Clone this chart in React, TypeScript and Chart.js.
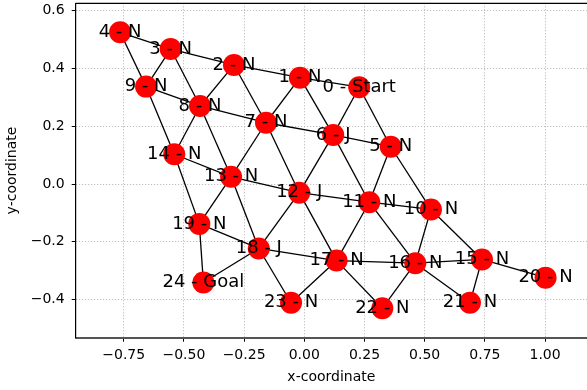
import React, { useEffect, useRef } from "react";
import { Chart, registerables } from "chart.js";

Chart.register(...registerables);

const nodeLabels = [
  "0 - Start", "1 - N", "2 - N", "3 - N", "4 - N", "5 - N", "6 - J", "7 - N", "8 - N", "9 - N",
  "10 - N", "11 - N", "12 - J", "13 - N", "14 - N", "15 - N", "16 - N", "17 - N", "18 - J", "19 - N",
  "20 - N", "21 - N", "22 - N", "23 - N", "24 - Goal",
];
const nodeX = [
  0.228, -0.018, -0.292, -0.555, -0.765, 0.359, 0.12, -0.159, -0.433, -0.657,
  0.526, 0.27, -0.021, -0.304, -0.54, 0.738, 0.461, 0.134, -0.189, -0.436,
  1.002, 0.688, 0.324, -0.055, -0.419,
];
const nodeY = [
  0.335, 0.368, 0.412, 0.467, 0.525, 0.129, 0.17, 0.212, 0.27, 0.337,
  -0.088, -0.063, -0.03, 0.025, 0.103, -0.261, -0.274, -0.265, -0.223, -0.138,
  -0.324, -0.411, -0.43, -0.411, -0.341,
];
const edgeFrom = [
  4, 3, 2, 1, 4, 3, 3, 2, 2, 1, 1, 0, 0, 9, 8, 7, 6, 9, 8, 8, 7, 7, 6, 6, 5, 5,
  14, 13, 12, 11, 14, 13, 13, 12, 12, 11, 11, 10, 10, 19, 18, 17, 16, 15, 19, 24, 18, 23, 17, 22, 16, 21,
];
const edgeTo = [
  3, 2, 1, 0, 9, 9, 8, 8, 7, 7, 6, 6, 5, 8, 7, 6, 5, 14, 14, 13, 13, 12, 12, 11, 11, 10,
  13, 12, 11, 10, 19, 19, 18, 18, 17, 17, 16, 16, 15, 18, 17, 16, 15, 20, 24, 18, 23, 17, 22, 16, 21, 15,
];
const xTicks = [-0.75, -0.5, -0.25, 0, 0.25, 0.5, 0.75, 1.0];
const yTicks = [-0.4, -0.2, 0, 0.2, 0.4, 0.6];
const xRange = [-0.9493, 1.1741];
const yRange = [-0.5318, 0.6253];

const FONT = "'DejaVu Sans', sans-serif";
const minus = (s: string) => s.replace("-", "\u2212");

const zeroPad = (s: any) => {
  s.paddingTop = 0;
  s.paddingBottom = 0;
  s.paddingLeft = 0;
  s.paddingRight = 0;
};

export default function App() {
  const ref = useRef<HTMLCanvasElement | null>(null);
  useEffect(() => {
    if (!ref.current) return;
    const nodes = nodeX.map((x, i) => ({ x, y: nodeY[i] }));
    const edgeSets = edgeFrom.map((a, i) => ({
      type: "line" as const,
      data: [nodes[a], nodes[edgeTo[i]]],
      borderColor: "#000",
      borderWidth: 1.3,
      pointRadius: 0,
      showLine: true,
      fill: false,
      order: 1,
    }));
    const labelPlugin = {
      id: "nodeLabels",
      afterDatasetsDraw(chart: any) {
        const ctx = chart.ctx;
        const xs = chart.scales.x;
        const ys = chart.scales.y;
        ctx.save();
        ctx.font = `18px ${FONT}`;
        ctx.fillStyle = "#000";
        ctx.textAlign = "center";
        ctx.textBaseline = "middle";
        nodeLabels.forEach((t, i) => {
          ctx.fillText(t, xs.getPixelForValue(nodeX[i]), ys.getPixelForValue(nodeY[i]));
        });
        ctx.restore();
      },
    };
    const framePlugin = {
      id: "frame",
      afterDraw(chart: any) {
        const { ctx, chartArea } = chart;
        ctx.save();
        ctx.strokeStyle = "#000";
        ctx.lineWidth = 1.2;
        ctx.beginPath();
        ctx.moveTo(chartArea.left, chartArea.top);
        ctx.lineTo(chartArea.right, chartArea.top);
        ctx.stroke();
        ctx.restore();
      },
    };
    const chart = new Chart(ref.current, {
      type: "scatter",
      data: {
        datasets: [
          {
            data: nodes,
            backgroundColor: "#ff0000",
            borderWidth: 0,
            pointRadius: 11,
            pointHoverRadius: 11,
            order: 0,
          } as any,
          ...edgeSets,
        ],
      },
      options: {
        animation: false,
        responsive: false,
        devicePixelRatio: 1,
        layout: { autoPadding: false, padding: { top: 3.3, right: 0, left: 0, bottom: 0 } },
        plugins: { legend: { display: false }, tooltip: { enabled: false } },
        events: [],
        scales: {
          x: {
            type: "linear",
            min: xRange[0],
            max: xRange[1],
            afterBuildTicks: (s: any) => {
              s.ticks = xTicks.map((v) => ({ value: v }));
            },
            afterFit: (s: any) => {
              s.height = 52.3;
              zeroPad(s);
            },
            ticks: {
              color: "#000",
              font: { family: FONT, size: 14 },
              padding: 5,
              maxRotation: 0,
              autoSkip: false,
              callback: (v: any) => minus(Number(v).toFixed(2)),
            },
            grid: {
              color: "#b0b0b0",
              lineWidth: 1,
              tickLength: 4,
              tickColor: "#000",
              tickWidth: 1,
              tickBorderDash: [],
            },
            border: { color: "#555", width: 2, dash: [1, 2] },
            title: {
              display: true,
              text: "x-coordinate",
              color: "#000",
              font: { family: FONT, size: 14 },
              padding: { top: 0, bottom: 4.6 },
            },
          },
          y: {
            type: "linear",
            min: yRange[0],
            max: yRange[1],
            afterBuildTicks: (s: any) => {
              s.ticks = yTicks.map((v) => ({ value: v }));
            },
            afterFit: (s: any) => {
              s.width = 75.7;
              zeroPad(s);
            },
            ticks: {
              color: "#000",
              font: { family: FONT, size: 14 },
              padding: 7,
              autoSkip: false,
              callback: (v: any) => minus(Number(v).toFixed(1)),
            },
            grid: {
              color: "#b0b0b0",
              lineWidth: 1,
              tickLength: 4,
              tickColor: "#000",
              tickWidth: 1,
              tickBorderDash: [],
            },
            border: { color: "#000", width: 1.2, dash: [1, 2] },
            title: {
              display: true,
              text: "y-coordinate",
              color: "#000",
              font: { family: FONT, size: 14 },
              padding: { top: 4.2, bottom: 0 },
            },
          },
        },
      },
      plugins: [labelPlugin, framePlugin],
    } as any);
    return () => chart.destroy();
  }, []);
  return (
    <div style={{ position: "absolute", left: 0, top: 0, width: 587, height: 390, background: "#fff" }}>
      <canvas ref={ref} width={587} height={390} style={{ display: "block" }} />
    </div>
  );
}
